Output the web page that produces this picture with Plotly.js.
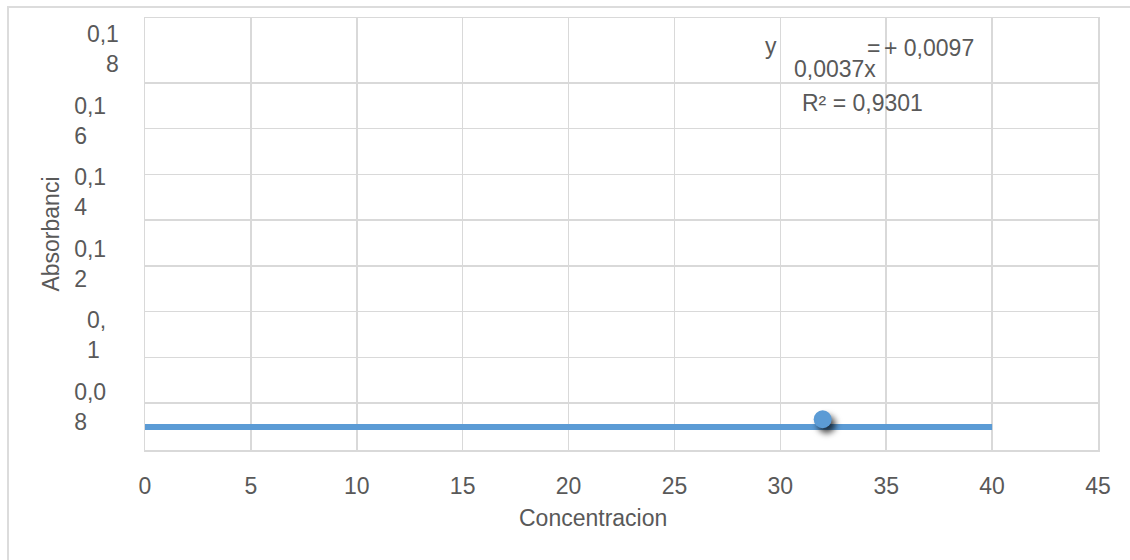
<!DOCTYPE html>
<html>
<head>
<meta charset="utf-8">
<script src="https://cdn.plot.ly/plotly-3.0.1.min.js"></script>
<style>
  html, body { margin: 0; padding: 0; background: #ffffff; }
  #wrap { position: relative; width: 1130px; height: 560px; overflow: hidden; }
  #frame { position: absolute; left: 7px; top: 6px; width: 1200px; height: 600px;
           border-left: 2px solid #dcdcdc; border-top: 2px solid #dcdcdc; pointer-events: none; }
  #chart { position: absolute; left: 0; top: 0; width: 1130px; height: 560px; }
  .scatterlayer .trace path.point { filter: drop-shadow(4px 5px 3px rgba(0,0,0,0.7)); }
</style>
</head>
<body>
<div id="wrap">
  <div id="chart"></div>
  <div id="frame"></div>
</div>
<script>
// ---- data ----
const lineX = [0, 40];
const lineY = [0.0743, 0.0743];
const pointX = [32];
const pointY = [0.0765];

const xTickVals = [0, 5, 10, 15, 20, 25, 30, 35, 40, 45];
const yTickVals = [0.08, 0.10, 0.12, 0.14, 0.16, 0.18];
const NB = '\u00a0';
const yTickText = [
  '0,0' + NB + NB + '<br>8' + NB.repeat(5),
  '0,' + NB + NB + '<br>1' + NB.repeat(3),
  '0,1' + NB + NB + '<br>2' + NB.repeat(5),
  '0,1' + NB + NB + '<br>4' + NB.repeat(5),
  '0,1' + NB + NB + '<br>6' + NB.repeat(5),
  '0,1<br>8'
];
const gridVals = [1, 2, 3, 4, 5, 6, 7, 8];

const xTitle = 'Concentracion';
const yTitle = 'Absorbanci';
const eqY = 'y';
const eqEq = '=';
const eqPlus = '+ 0,0097';
const eqSlope = '0,0037x';
const eqR2 = 'R² = 0,9301';

// ---- styling ----
const FONT = 'Liberation Sans, Arial, Helvetica, sans-serif';
const TXT = '#595959';
const GRID = '#d9d9d9';
const BLUE = '#5b9bd5';
const FS = 23;

const traces = [
  { type: 'scatter', x: [], y: [], yaxis: 'y2', showlegend: false, hoverinfo: 'skip' },
  {
    type: 'scatter', mode: 'lines', x: lineX, y: lineY,
    line: { color: BLUE, width: 6 }, hoverinfo: 'skip', showlegend: false
  },
  {
    type: 'scatter', mode: 'markers', x: pointX, y: pointY,
    marker: { color: BLUE, size: 18, line: { width: 0 } }, showlegend: false
  }
];

function ann(text, px, py, anchor) {
  return {
    text: text, xref: 'paper', yref: 'paper',
    x: (px - 145) / 953, y: (450 - py) / 432,
    xanchor: anchor || 'left', yanchor: 'middle',
    showarrow: false, font: { family: FONT, size: FS, color: TXT }
  };
}

const layout = {
  width: 1130, height: 560,
  margin: { l: 145, r: 32, t: 18, b: 110, pad: 0 },
  paper_bgcolor: 'rgba(0,0,0,0)', plot_bgcolor: '#ffffff',
  font: { family: FONT, size: FS, color: TXT },
  showlegend: false,
  xaxis: {
    range: [0, 45], tickmode: 'array', tickvals: xTickVals,
    showgrid: true, gridcolor: GRID, gridwidth: 1.5,
    showline: true, mirror: true, linecolor: GRID, linewidth: 1.5,
    zeroline: false, ticks: '', ticklabelstandoff: 15,
    tickfont: { family: FONT, size: FS, color: TXT }
  },
  yaxis: {
    range: [0.0679, 0.1887], tickmode: 'array', tickvals: yTickVals, ticktext: yTickText,
    showgrid: false, showline: true, mirror: true, linecolor: GRID, linewidth: 1.5,
    zeroline: false, ticks: '', ticklabelstandoff: 20,
    tickfont: { family: FONT, size: FS, color: TXT },
    title: { text: yTitle, font: { family: FONT, size: FS, color: TXT }, standoff: 8 }
  },
  yaxis2: {
    overlaying: 'y', side: 'left', range: [-0.028, 9.42],
    tickmode: 'array', tickvals: gridVals, showticklabels: false,
    showgrid: true, gridcolor: GRID, gridwidth: 1.5, zeroline: false, showline: false, ticks: ''
  },
  annotations: [
    ann(eqY, 763, 45.5),
    ann(eqEq, 865, 47.5),
    ann(eqPlus, 882, 47.5),
    ann(eqSlope, 792, 69.5),
    ann(eqR2, 800, 103.5),
    ann(xTitle, 593, 518, 'center')
  ]
};

Plotly.newPlot('chart', traces, layout, { staticPlot: true, displayModeBar: false });
</script>
</body>
</html>
